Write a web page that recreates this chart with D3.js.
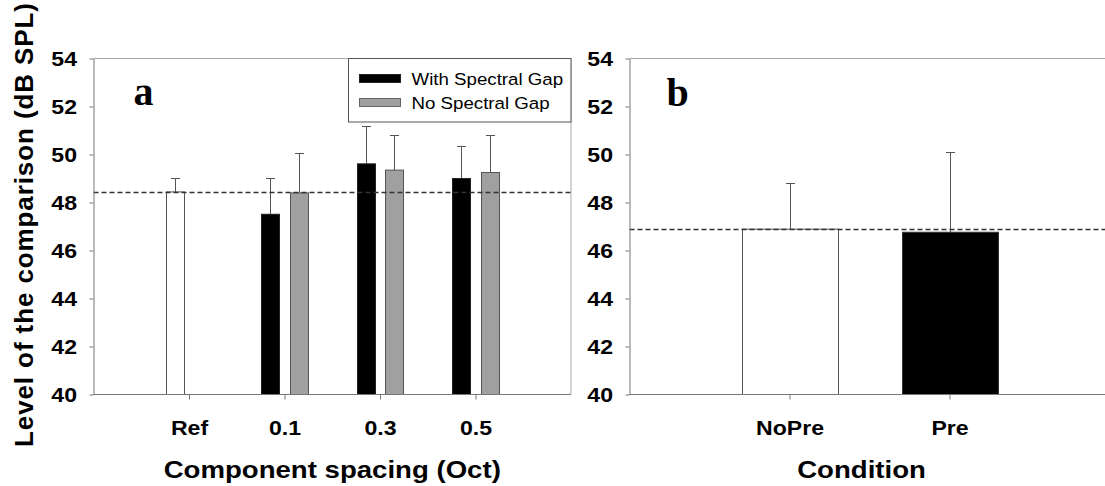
<!DOCTYPE html>
<html>
<head>
<meta charset="utf-8">
<script src="https://cdn.jsdelivr.net/npm/d3@7"></script>
<style>
  body { margin: 0; background: #fff; }
  svg { display: block; font-family: "Liberation Sans", Arial, sans-serif; }
</style>
</head>
<body>
<svg width="1105" height="486"></svg>
<script>
// Panel a data
const categoriesA = ["Ref", "0.1", "0.3", "0.5"];
const refValue = 48.44, refErr = 0.56;
const withGap    = [null, 47.51, 49.61, 49.00];
const withGapErr = [null, 1.52, 1.56, 1.36];
const noGap      = [null, 48.40, 49.35, 49.25];
const noGapErr   = [null, 1.67, 1.47, 1.57];
const refLineA = 48.43;

// Panel b data
const categoriesB = ["NoPre", "Pre"];
const valuesB = [46.89, 46.76];
const errB    = [1.94, 3.35];
const refLineB = 46.88;

const yTicks = [40, 42, 44, 46, 48, 50, 52, 54];
const legendLabels = ["With Spectral Gap", "No Spectral Gap"];

const svg = d3.select("svg");
const plotTop = 58.5, plotBottom = 394.5;
const axisColor = "#777", borderColor = "#aaa";

const y = d3.scaleLinear().domain([40, 54]).range([plotBottom, plotTop]);
const xA = d3.scaleLinear().domain([0, 5]).range([93.5, 571]);
const xB = d3.scaleLinear().domain([0, 3]).range([629.5, 1109.5]);

// bars for panel a, built from the arrays
const barsA = [{ i: 1, off: -0.15, v: refValue, e: refErr, fill: "#fff", stroke: "#555" }];
categoriesA.forEach((c, k) => {
  if (withGap[k] != null) barsA.push({ i: k + 1, off: -0.15, v: withGap[k], e: withGapErr[k], fill: "#000", stroke: "#222" });
  if (noGap[k] != null) barsA.push({ i: k + 1, off: 0.15, v: noGap[k], e: noGapErr[k], fill: "#a0a0a0", stroke: "#555" });
});
const barsB = valuesB.map((v, k) => ({ i: k + 1, off: 0, v: v, e: errB[k], fill: k === 0 ? "#fff" : "#000", stroke: k === 0 ? "#555" : "#333" }));

function panel(x, bars, barW, cats, refLine, rightEdge, drawRight) {
  const g = svg.append("g");
  const bw = x(barW) - x(0);

  // frame
  g.append("line").attr("x1", x.range()[0]).attr("x2", rightEdge)
    .attr("y1", plotTop).attr("y2", plotTop).attr("stroke", borderColor);
  if (drawRight) {
    g.append("line").attr("x1", rightEdge).attr("x2", rightEdge)
      .attr("y1", plotTop).attr("y2", plotBottom).attr("stroke", borderColor);
  }

  // error bars (upper only)
  const eb = g.append("g").attr("stroke", "#555").attr("stroke-width", 1);
  eb.selectAll("line.v").data(bars).join("line").attr("class", "v")
    .attr("x1", d => Math.round(x(d.i + d.off)) + 0.5)
    .attr("x2", d => Math.round(x(d.i + d.off)) + 0.5)
    .attr("y1", d => y(d.v)).attr("y2", d => Math.round(y(d.v + d.e)) + 0.5);
  eb.selectAll("line.c").data(bars).join("line").attr("class", "c")
    .attr("x1", d => Math.round(x(d.i + d.off)) - 4)
    .attr("x2", d => Math.round(x(d.i + d.off)) + 5)
    .attr("y1", d => Math.round(y(d.v + d.e)) + 0.5)
    .attr("y2", d => Math.round(y(d.v + d.e)) + 0.5);

  // bars
  g.selectAll("rect").data(bars).join("rect")
    .attr("x", d => Math.round(x(d.i + d.off) - bw / 2) + 0.5)
    .attr("width", Math.round(bw))
    .attr("y", d => y(d.v))
    .attr("height", d => plotBottom - y(d.v))
    .attr("fill", d => d.fill)
    .attr("stroke", d => d.stroke);

  // dashed reference line
  g.append("line").attr("x1", x.range()[0]).attr("x2", rightEdge)
    .attr("y1", Math.round(y(refLine)) + 0.5).attr("y2", Math.round(y(refLine)) + 0.5)
    .attr("stroke", "#333").attr("stroke-width", 1.3).attr("stroke-dasharray", "5,3");

  // y axis
  const ya = g.append("g").attr("transform", `translate(${x.range()[0]},0)`)
    .call(d3.axisLeft(y).tickValues(yTicks).tickSize(4).tickSizeOuter(0).tickPadding(11));
  ya.select(".domain").attr("stroke", axisColor);
  ya.selectAll(".tick line").attr("stroke", axisColor);
  ya.selectAll("text").attr("font-size", 21).attr("font-weight", "bold")
    .attr("fill", "#000").attr("transform", "scale(1.1,1)");

  // x axis
  const xa = g.append("g").attr("transform", `translate(0,${plotBottom})`)
    .call(d3.axisBottom(x).tickValues(cats.map((c, k) => k + 1))
      .tickFormat(v => cats[v - 1]).tickSize(5).tickSizeOuter(0).tickPadding(21));
  xa.select(".domain").attr("d", `M${x.range()[0]},0H${rightEdge}`).attr("stroke", axisColor);
  xa.selectAll(".tick line").attr("stroke", axisColor);
  xa.selectAll("text").attr("font-size", 21).attr("font-weight", "bold")
    .attr("fill", "#000").attr("transform", "scale(1.1,1)");
  return g;
}

panel(xA, barsA, 0.185, categoriesA, refLineA, 571, true);
panel(xB, barsB, 0.6, categoriesB, refLineB, 1109.5, false);

// panel letters
svg.append("text").attr("x", xA(0) + 40).attr("y", 105)
  .attr("font-family", "'Liberation Serif', 'Times New Roman', serif")
  .attr("font-weight", "bold").attr("font-size", 40).text("a");
svg.append("text").attr("x", xB(0) + 37).attr("y", 106)
  .attr("font-family", "'Liberation Serif', 'Times New Roman', serif")
  .attr("font-weight", "bold").attr("font-size", 40).text("b");

// axis titles
function stretched(x, yy, txt, size, sx, anchor) {
  svg.append("text").attr("transform", `translate(${x},${yy}) scale(${sx},1)`)
    .attr("text-anchor", anchor || "middle").attr("font-size", size)
    .attr("font-weight", "bold").text(txt);
}
stretched((xA(0) + xA(5)) / 2, 478, "Component spacing (Oct)", 23, 1.2);
stretched(xB(1.45), 478, "Condition", 23, 1.2);

svg.append("text").attr("transform", "translate(33,447) rotate(-90)")
  .attr("font-size", 26).attr("font-weight", "bold").attr("letter-spacing", 0.9)
  .text("Level of the comparison (dB SPL)");

// legend
const lg = svg.append("g");
lg.append("rect").attr("x", 348.5).attr("y", plotTop).attr("width", 571 - 348.5).attr("height", 122 - plotTop)
  .attr("fill", "#fff").attr("stroke", "#555");
const legendFills = ["#000", "#a0a0a0"];
legendLabels.forEach((t, k) => {
  lg.append("rect").attr("x", 359.5).attr("y", 74.5 + k * 24).attr("width", 41).attr("height", 8)
    .attr("fill", legendFills[k]).attr("stroke", k === 0 ? "#222" : "#666");
  lg.append("text").attr("transform", `translate(411.5,${85 + k * 24}) scale(1.1,1)`)
    .attr("font-size", 17).text(t);
});
</script>
</body>
</html>
